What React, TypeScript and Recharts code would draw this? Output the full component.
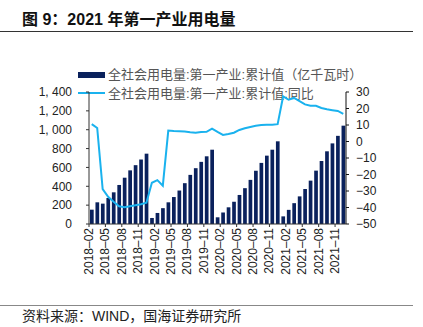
import React from "react";
import { ComposedChart, Bar, Line, XAxis, YAxis } from "recharts";

const CATEGORIES = [
  "2018–02", "2018–03", "2018–04", "2018–05", "2018–06", "2018–07", "2018–08", "2018–09", "2018–10", "2018–11", "2018–12",
  "2019–01", "2019–02", "2019–03", "2019–04", "2019–05", "2019–06", "2019–07", "2019–08", "2019–09", "2019–10", "2019–11", "2019–12",
  "2020–01", "2020–02", "2020–03", "2020–04", "2020–05", "2020–06", "2020–07", "2020–08", "2020–09", "2020–10", "2020–11", "2020–12",
  "2021–01", "2021–02", "2021–03", "2021–04", "2021–05", "2021–06", "2021–07", "2021–08", "2021–09", "2021–10", "2021–11", "2021–12",
];

// 全社会用电量:第一产业:累计值（亿千瓦时）
const CUMULATIVE = [
  152, 230, 216, 276, 336, 414, 491, 569, 624, 684, 746,
  64, 117, 168, 230, 286, 355, 433, 521, 592, 659, 718, 788,
  71, 122, 177, 236, 308, 380, 468, 566, 648, 725, 788, 877,
  81, 150, 221, 293, 371, 460, 566, 668, 771, 855, 935, 1043,
];

// 全社会用电量:第一产业:累计值:同比 (%)
const YOY = [
  10.5, 8.2, -28.8, -33.5, -36.5, -39.3, -39.8, -39.2, -38.6, -38.0, -37.1,
  -25.0, -23.4, -26.8, 6.6, 6.3, 6.2, 6.0, 5.6, 5.3, 5.8, 5.9, 7.8,
  5.8, 4.0, 4.5, 5.3, 7.0, 8.0, 8.8, 9.5, 10.0, 10.1, 10.2, 10.5,
  27.3, 25.3, 26.4, 24.5, 22.5, 21.7, 21.6, 20.3, 19.5, 19.0, 18.5, 16.8,
];

const LEFT_TICKS = [0, 200, 400, 600, 800, 1000, 1200, 1400];
const RIGHT_TICKS = [-50, -40, -30, -20, -10, 0, 10, 20, 30];

const BAR_NAME = "全社会用电量:第一产业:累计值（亿千瓦时）";
const LINE_NAME = "全社会用电量:第一产业:累计值:同比";

const data = CATEGORIES.map((c, i) => ({ month: c, value: CUMULATIVE[i], yoy: YOY[i] }));

const W = 423;
const H = 327;
const TOP = 92;
const PLOT_H = 132;
const LEFT_W = 89;
const RIGHT_W = 77;
const PLOT_W = W - LEFT_W - RIGHT_W;
const BAND = PLOT_W / CATEGORIES.length;
const AXIS_Y = TOP + PLOT_H;

const BAR_COLOR = "#0a215c";
const LINE_COLOR = "#1ab2ee";
const AXIS_FONT = "'Liberation Sans', Arial, sans-serif";
const CJK_FONT = "'Liberation Sans', 'Noto Sans CJK SC', sans-serif";

const fmtLeft = (v: number) =>
  v >= 1000 ? `${Math.floor(v / 1000)}, ${String(v % 1000).padStart(3, "0")}` : String(v);
const fmtRight = (v: number) => (v < 0 ? `−${Math.abs(v)}` : String(v));

const XTick = (props: any) => {
  const { x, payload } = props;
  const lx = x - BAND / 2;
  const ty = AXIS_Y + 4;
  return (
    <g>
      <line x1={lx} x2={lx} y1={AXIS_Y} y2={AXIS_Y + 3} stroke="#333" />
      <text
        x={lx}
        y={ty}
        transform={`rotate(-90, ${lx}, ${ty})`}
        textAnchor="end"
        dominantBaseline="central"
        fontSize={12}
        fontFamily={AXIS_FONT}
        fill="#222"
      >
        {payload.value}
      </text>
    </g>
  );
};

export default function App() {
  return (
    <div style={{ position: "absolute", left: 0, top: 0, width: W, height: H, background: "#fff", overflow: "hidden" }}>
      <div
        style={{
          position: "absolute",
          left: 22,
          top: 11,
          height: 18,
          lineHeight: "18px",
          fontSize: 16,
          fontWeight: 700,
          fontFamily: CJK_FONT,
          color: "#111",
          whiteSpace: "nowrap",
        }}
      >
        图 9：2021 年第一产业用电量
      </div>
      <div style={{ position: "absolute", left: 0, top: 31, width: 413, height: 1, background: "#333" }} />

      <div style={{ position: "absolute", left: 78, top: 71.5, width: 27, height: 6, background: BAR_COLOR }} />
      <div
        style={{
          position: "absolute",
          left: 108,
          top: 66,
          lineHeight: "17px",
          fontSize: 13,
          fontFamily: CJK_FONT,
          color: "#555",
          whiteSpace: "nowrap",
        }}
      >
        {BAR_NAME}
      </div>
      <div style={{ position: "absolute", left: 78, top: 92.3, width: 27, height: 2, background: LINE_COLOR }} />
      <div
        style={{
          position: "absolute",
          left: 108,
          top: 85,
          lineHeight: "17px",
          fontSize: 13,
          fontFamily: CJK_FONT,
          color: "#555",
          whiteSpace: "nowrap",
        }}
      >
        {LINE_NAME}
      </div>

      <div style={{ position: "absolute", left: 0, top: 0 }}>
        <ComposedChart width={W} height={H} data={data} margin={{ top: TOP, right: 0, bottom: 0, left: 0 }}>
          <XAxis
            dataKey="month"
            interval={2}
            height={H - AXIS_Y}
            tickLine={false}
            tick={<XTick />}
            axisLine={{ stroke: "#333" }}
          />
          <YAxis
            yAxisId="left"
            orientation="left"
            width={LEFT_W}
            domain={[0, 1400]}
            ticks={LEFT_TICKS}
            tickFormatter={fmtLeft}
            tickSize={3}
            tickMargin={14}
            axisLine={{ stroke: "#333" }}
            tickLine={{ stroke: "#333" }}
            tick={{ fontSize: 12, fontFamily: AXIS_FONT, fill: "#222" }}
            interval={0}
          />
          <YAxis
            yAxisId="right"
            orientation="right"
            width={RIGHT_W}
            domain={[-50, 30]}
            ticks={RIGHT_TICKS}
            tickFormatter={fmtRight}
            tickSize={3}
            tickMargin={7}
            axisLine={{ stroke: "#111" }}
            tickLine={{ stroke: "#111" }}
            tick={{ fontSize: 12, fontFamily: AXIS_FONT, fill: "#222" }}
            interval={0}
          />
          <Bar yAxisId="left" dataKey="value" name={BAR_NAME} fill={BAR_COLOR} barSize={3.7} isAnimationActive={false} />
          <Line
            yAxisId="right"
            dataKey="yoy"
            name={LINE_NAME}
            type="linear"
            stroke={LINE_COLOR}
            strokeWidth={2}
            dot={false}
            isAnimationActive={false}
          />
        </ComposedChart>
      </div>

      <div style={{ position: "absolute", left: 0, top: 305, width: 413, height: 1, background: "#888" }} />
      <div
        style={{
          position: "absolute",
          left: 22,
          top: 306,
          lineHeight: "20px",
          fontSize: 14,
          fontFamily: CJK_FONT,
          color: "#222",
          whiteSpace: "nowrap",
        }}
      >
        资料来源：WIND，国海证券研究所
      </div>
    </div>
  );
}
